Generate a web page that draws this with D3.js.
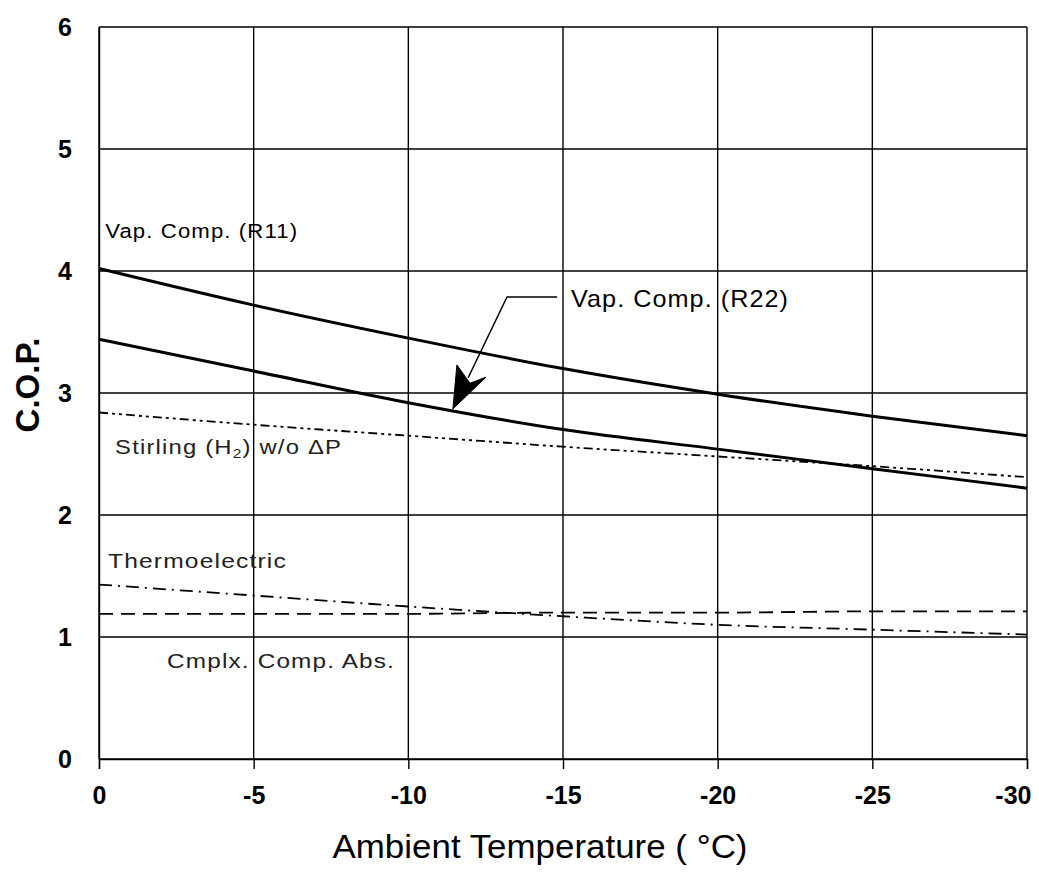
<!DOCTYPE html>
<html>
<head>
<meta charset="utf-8">
<script src="https://cdn.jsdelivr.net/npm/d3@7"></script>
<style>
  html, body { margin: 0; padding: 0; background: #fff; }
  svg { display: block; font-family: "Liberation Sans", Arial, sans-serif; }
</style>
</head>
<body>
<svg id="chart" width="1039" height="873"></svg>
<script>
// ---- data ----
const temps      = [0, -5, -10, -15, -20, -25, -30];
const r11        = [4.02, 3.72, 3.45, 3.20, 2.99, 2.81, 2.65];
const r22        = [3.44, 3.18, 2.92, 2.70, 2.54, 2.38, 2.22];
const stirling   = [2.84, 2.74, 2.65, 2.56, 2.48, 2.40, 2.31];
const thermo     = [1.43, 1.34, 1.25, 1.17, 1.10, 1.06, 1.02];
const cmplx      = [1.19, 1.19, 1.19, 1.20, 1.20, 1.21, 1.21];
const xTicks     = [0, -5, -10, -15, -20, -25, -30];
const yTicks     = [0, 1, 2, 3, 4, 5, 6];

// ---- layout ----
const svg = d3.select("#chart");
const L = 99, R = 1027, T = 27, B = 759;
const x = d3.scaleLinear().domain([0, -30]).range([L, R]);
const y = d3.scaleLinear().domain([0, 6]).range([B, T]);
const FONT = "Liberation Sans, Arial, sans-serif";

// grid
const grid = svg.append("g").attr("stroke", "#000").attr("stroke-width", 1.4);
grid.selectAll("line.v").data(xTicks).join("line")
  .attr("x1", d => x(d)).attr("x2", d => x(d)).attr("y1", T).attr("y2", B);
grid.selectAll("line.h").data(yTicks).join("line")
  .attr("y1", d => y(d)).attr("y2", d => y(d)).attr("x1", L).attr("x2", R);

// x axis
const xAxis = d3.axisBottom(x).tickValues(xTicks).tickSize(10).tickPadding(17)
  .tickFormat(d => d === 0 ? "0" : String(d));
const gx = svg.append("g").attr("transform", `translate(0,${B})`).call(xAxis);
gx.select(".domain").attr("stroke", "#000").attr("stroke-width", 1.4);
gx.selectAll(".tick line").attr("stroke", "#000").attr("stroke-width", 1.4);
gx.selectAll(".tick text").attr("font-size", 25).attr("font-weight", "bold")
  .attr("fill", "#000").attr("font-family", FONT);
gx.selectAll(".tick text").filter(d => d === -30)
  .attr("text-anchor", "end").attr("dx", 4);

// y axis
const yAxis = d3.axisLeft(y).tickValues(yTicks).tickSize(0).tickPadding(27)
  .tickFormat(d3.format("d"));
const gy = svg.append("g").attr("transform", `translate(${L},0)`).call(yAxis);
gy.select(".domain").attr("stroke", "#000").attr("stroke-width", 1.4);
gy.selectAll(".tick text").attr("font-size", 25).attr("font-weight", "bold")
  .attr("fill", "#000").attr("font-family", FONT);

// axis titles
svg.append("text").attr("transform", "translate(39,385) rotate(-90)")
  .attr("text-anchor", "middle").attr("font-size", 33).attr("font-weight", "bold")
  .text("C.O.P.");
svg.append("text").attr("x", 540).attr("y", 858).attr("text-anchor", "middle")
  .attr("font-size", 33).attr("textLength", 415).attr("lengthAdjust", "spacingAndGlyphs")
  .text("Ambient Temperature ( °C)");

// series
const line = d3.line().x(d => x(d[0])).y(d => y(d[1])).curve(d3.curveMonotoneX);
const series = [
  { vals: r11, w: 3, dash: null },
  { vals: r22, w: 3, dash: null },
  { vals: stirling, w: 1.8, dash: "9,4,3,4,3,4" },
  { vals: thermo, w: 1.8, dash: "13,6,2,6" },
  { vals: cmplx, w: 1.8, dash: "14,8" }
];
svg.append("g").selectAll("path").data(series).join("path")
  .attr("d", s => line(temps.map((t, i) => [t, s.vals[i]])))
  .attr("fill", "none").attr("stroke", "#000")
  .attr("stroke-width", s => s.w)
  .attr("stroke-dasharray", s => s.dash);

// annotation arrow for R22 (anchors in data units)
const arrowLine = [[-14.81, 3.787], [-13.19, 3.787], [-11.93, 3.123]];
svg.append("path")
  .attr("d", d3.line().x(d => x(d[0])).y(d => y(d[1]))(arrowLine))
  .attr("fill", "none").attr("stroke", "#000").attr("stroke-width", 1.5);
const arrowHead = [[-11.44, 2.869], [-11.57, 3.23], [-11.99, 3.08], [-12.51, 3.13]];
svg.append("path")
  .attr("d", d3.line().x(d => x(d[0])).y(d => y(d[1]))(arrowHead) + "Z")
  .attr("fill", "#000").attr("stroke", "#000").attr("stroke-width", 1);

// labels
function label(tx, ty, txt, size, len, color) {
  return svg.append("text").attr("x", x(tx)).attr("y", y(ty))
    .attr("font-size", size).attr("fill", color || "#000")
    .attr("letter-spacing", 1)
    .attr("textLength", len).attr("lengthAdjust", "spacingAndGlyphs").text(txt);
}
label(-0.2, 4.27, "Vap. Comp. (R11)", 20, 193);
label(-15.26, 3.705, "Vap. Comp. (R22)", 24, 218);
const st = svg.append("text").attr("x", x(-0.52)).attr("y", y(2.497))
  .attr("font-size", 20).attr("fill", "#222").attr("letter-spacing", 1)
  .attr("textLength", 227).attr("lengthAdjust", "spacingAndGlyphs");
st.append("tspan").text("Stirling (H");
st.append("tspan").attr("font-size", 13).attr("dy", 4).text("2");
st.append("tspan").attr("dy", -4).text(") w/o ΔP");
label(-0.29, 1.566, "Thermoelectric", 21, 179, "#222");
label(-2.2, 0.746, "Cmplx. Comp. Abs.", 21, 228, "#222");
</script>
</body>
</html>
